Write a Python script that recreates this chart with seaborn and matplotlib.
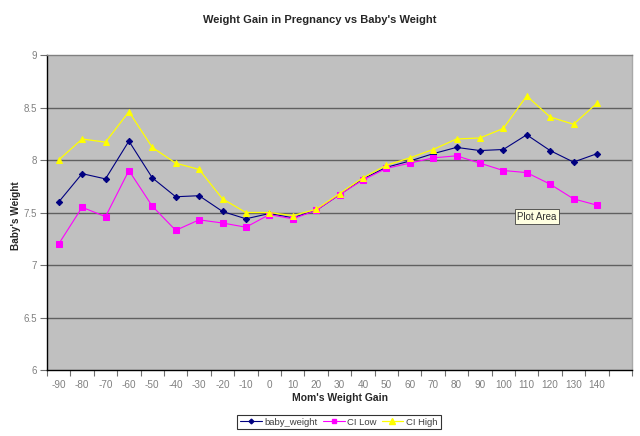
import numpy as np
import pandas as pd
import matplotlib
matplotlib.use("Agg")
import matplotlib.pyplot as plt
import seaborn as sns
from matplotlib.lines import Line2D
from matplotlib.ticker import FixedLocator

weight_gain = [-90, -80, -70, -60, -50, -40, -30, -20, -10, 0, 10, 20, 30,
               40, 50, 60, 70, 80, 90, 100, 110, 120, 130, 140]
baby_weight = [7.60, 7.87, 7.82, 8.18, 7.83, 7.65, 7.66, 7.51, 7.44, 7.49, 7.45, 7.52,
               7.67, 7.82, 7.93, 7.99, 8.06, 8.12, 8.09, 8.10, 8.24, 8.09, 7.98, 8.06]
ci_low = [7.20, 7.55, 7.46, 7.90, 7.56, 7.33, 7.43, 7.40, 7.36, 7.48, 7.44, 7.52,
          7.67, 7.81, 7.92, 7.97, 8.02, 8.04, 7.97, 7.90, 7.88, 7.77, 7.63, 7.57]
ci_high = [8.00, 8.20, 8.17, 8.46, 8.12, 7.97, 7.91, 7.63, 7.50, 7.50, 7.47, 7.53,
           7.68, 7.83, 7.95, 8.02, 8.10, 8.20, 8.21, 8.30, 8.61, 8.41, 8.34, 8.54]
series_names = ["baby_weight", "CI Low", "CI High"]
y_ticks = [6, 6.5, 7, 7.5, 8, 8.5, 9]
y_tick_labels = ["6", "6.5", "7", "7.5", "8", "8.5", "9"]

df = pd.DataFrame({
    "gain": weight_gain * 3,
    "value": baby_weight + ci_low + ci_high,
    "series": [s for s in series_names for _ in weight_gain],
})

sns.set_style("white")
plt.rcParams["font.family"] = ["Liberation Sans", "DejaVu Sans"]

fig = plt.figure(figsize=(6.4, 4.36), dpi=100)
ax = fig.add_axes([47 / 640, 1 - 370 / 436, (632 - 47) / 640, (370 - 55) / 436])
ax.set_facecolor("#c0c0c0")

colors = {"baby_weight": "#000080", "CI Low": "#ff00ff", "CI High": "#ffff00"}
markers = {"baby_weight": "D", "CI Low": "s", "CI High": "^"}
sizes = {"baby_weight": 3.2, "CI Low": 4.0, "CI High": 5.0}
lwidths = {"baby_weight": 0.8, "CI Low": 0.8, "CI High": 0.9}

for s in series_names:
    sub = df[df["series"] == s]
    sns.lineplot(data=sub, x="gain", y="value", ax=ax, color=colors[s],
                 marker=markers[s], markersize=sizes[s], markeredgecolor=colors[s],
                 linewidth=lwidths[s], label=s, legend=False, zorder=3)

ax.set_xlim(-95, 155)
ax.set_ylim(6, 9)
ax.set_yticks(y_ticks)
ax.set_yticklabels(y_tick_labels)
for yv in y_ticks[1:-1]:
    ax.axhline(yv, color="#606060", lw=1.0, zorder=1)

ax.set_xticks(weight_gain)
ax.set_xticklabels([str(v) for v in weight_gain])
ax.xaxis.set_minor_locator(FixedLocator(np.arange(-95, 160, 10)))
ax.tick_params(axis="x", which="major", length=0, pad=7, labelsize=7.2, labelcolor="#808080")
ax.tick_params(axis="x", which="minor", length=4, width=0.8, color="#707070", direction="out")
ax.tick_params(axis="y", which="major", length=5, width=0.8, color="#707070",
               direction="out", pad=2, labelsize=7.0, labelcolor="#808080", left=True)
ax.tick_params(axis="x", which="minor", bottom=True)

for side in ["left", "bottom"]:
    ax.spines[side].set_color("#000000")
    ax.spines[side].set_linewidth(1.0)
ax.spines["top"].set_color("#808080")
ax.spines["right"].set_color("#a8a8a8")
ax.spines["top"].set_linewidth(1.0)
ax.spines["right"].set_linewidth(1.0)

ax.set_xlabel("Mom's Weight Gain", fontsize=7.5, fontweight="bold")
ax.xaxis.set_label_coords(0.5, -(398 - 370) / 315, transform=ax.transAxes)
ax.xaxis.label.set_va("center")
ax.set_ylabel("Baby's Weight", fontsize=7.2, fontweight="bold")
ax.yaxis.set_label_coords(-(47 - 16) / 585, 0.49, transform=ax.transAxes)
ax.yaxis.label.set_va("center")
fig.text(0.5, 1 - 20 / 436, "Weight Gain in Pregnancy vs Baby's Weight",
         ha="center", va="center", fontsize=8, fontweight="bold")

handles = [Line2D([0], [0], color=colors[s], marker=markers[s], markersize=sizes[s] - 0.8,
                  lw=lwidths[s]) for s in series_names]
leg = fig.legend(handles, series_names, loc="center", bbox_to_anchor=(339 / 640, 1 - 422 / 436),
                 ncol=3, fontsize=6.8, frameon=True, fancybox=False, handlelength=2.3,
                 handletextpad=0.3, columnspacing=0.5, borderpad=0.3, labelcolor="#404040")
leg.get_frame().set_edgecolor("#000000")
leg.get_frame().set_linewidth(0.8)

ax.text(106, 7.46, "Plot Area", fontsize=7, color="#303030", va="center", ha="left",
        bbox=dict(boxstyle="square,pad=0.25", facecolor="#ffffe1", edgecolor="#404040", lw=0.6),
        zorder=5)

fig.savefig("out.png", dpi=100, facecolor="white")
